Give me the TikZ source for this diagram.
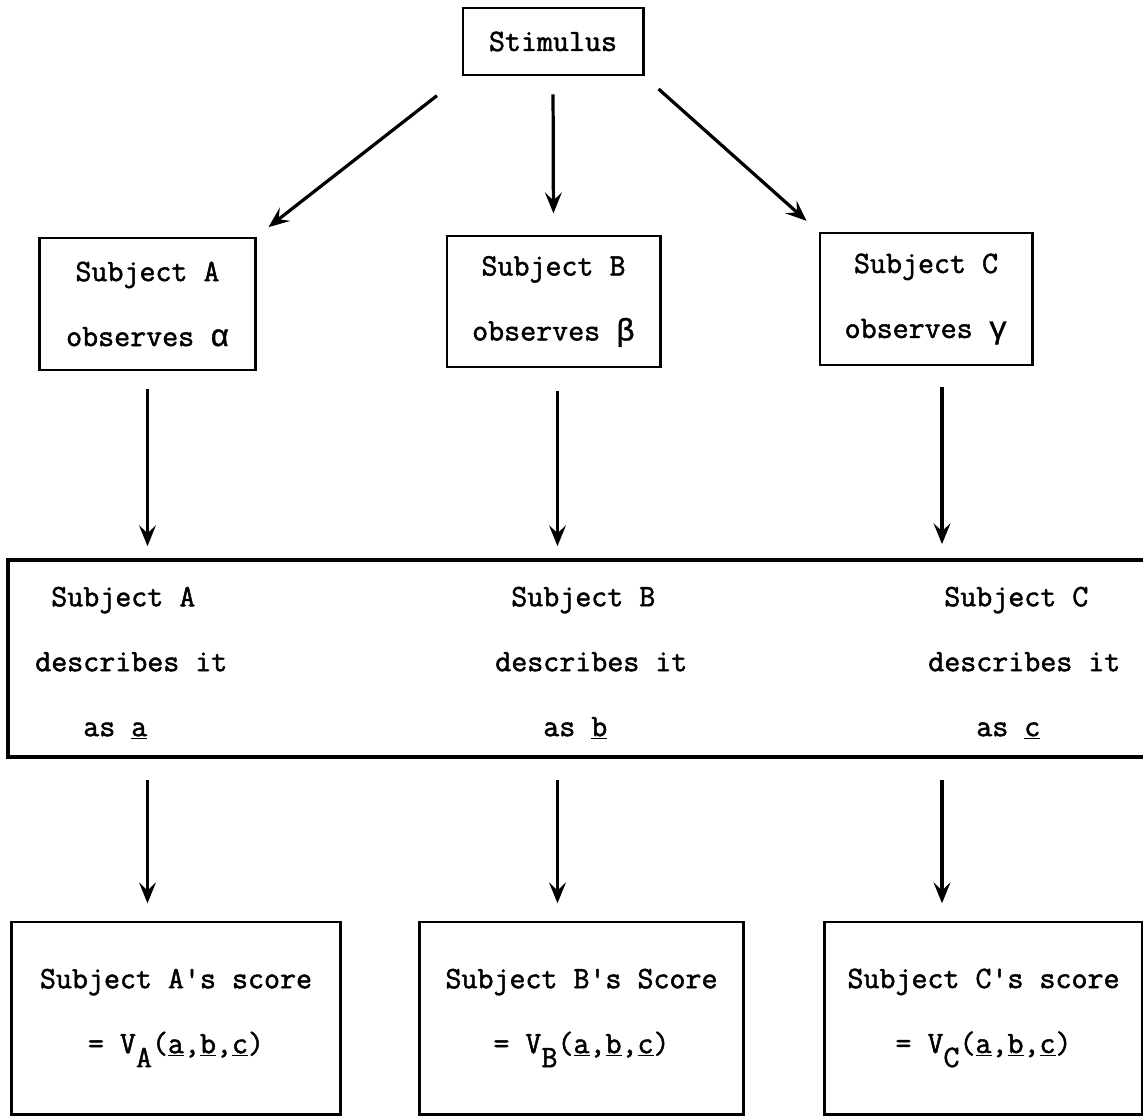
\documentclass[tikz,border=0pt]{standalone}
\usepackage{fontspec}
\setmonofont{Latin Modern Mono}[FakeBold=1.6]
\newfontfamily\greekfont{Liberation Mono}[FakeBold=1.2]
\usetikzlibrary{arrows.meta}
\newcommand{\typeset}{\ttfamily\fontsize{22.1}{46.2}\selectfont}
\tikzset{
  box/.style={draw, line width=2.1pt, inner sep=0pt, align=center, font=\typeset},
  lane/.style={inner sep=0pt, align=left, anchor=west, font=\typeset},
  flow/.style={-{Stealth[length=5.2mm,width=4.2mm,inset=2mm]}, line width=2.3pt},
}

\begin{document}
\begin{tikzpicture}[x=0.025cm, y=-0.025cm]
  \useasboundingbox (0,0) rectangle (1143,1116);

  % stimulus and the three observers
  \node[box, minimum width=4.5cm, minimum height=1.675cm] (stim) at (553,41.5) {Stimulus};
  \node[box, minimum width=5.375cm, minimum height=3.3cm] (obsA) at (147.5,304)
    {Subject A\\observes {\greekfont α}};
  \node[box, minimum width=5.325cm, minimum height=3.275cm] (obsB) at (553.5,301.5)
    {Subject B\\observes {\greekfont β}};
  \node[box, minimum width=5.3cm, minimum height=3.3cm] (obsC) at (926,299)
    {Subject C\\observes {\greekfont γ}};

  % common description box, open on the right
  \node[box, line width=2.6pt, minimum width=28.55cm, minimum height=4.925cm] (desc) at (579,658.5) {};
  \node[lane] (descA) at (35,663)
    {\hphantom{x}Subject A\\describes it\\\hphantom{xxx}as \underline{a}};
  \node[lane] (descB) at (495,663)
    {\hphantom{x}Subject B\\describes it\\\hphantom{xxx}as \underline{b}};
  \node[lane] (descC) at (928,663)
    {\hphantom{x}Subject C\\describes it\\\hphantom{xxx}as \underline{c}};

  % scores
  \node[box, minimum width=8.2cm, minimum height=4.8cm] (scoreA) at (176,1018)
    {Subject A's score\\= V\raisebox{-0.45em}{A}(\underline{a},\underline{b},\underline{c})};
  \node[box, minimum width=8.075cm, minimum height=4.8cm] (scoreB) at (581.5,1018)
    {Subject B's Score\\= V\raisebox{-0.45em}{B}(\underline{a},\underline{b},\underline{c})};
  \node[box, minimum width=7.925cm, minimum height=4.8cm] (scoreC) at (983.5,1018)
    {Subject C's score\\= V\raisebox{-0.45em}{C}(\underline{a},\underline{b},\underline{c})};

  \coordinate (laneC) at ([xshift=0.4cm]obsC.south);

  % arrows
  \draw[flow, shorten <=0.78cm, shorten >=0.38cm] (stim.south west) -- (obsA.north east);
  \draw[flow, shorten <=0.45cm, shorten >=0.53cm] (stim.south) -- (obsB.north);
  \draw[flow, shorten <=0.47cm, shorten >=0.4cm] (stim.south east) -- (obsC.north west);

  \draw[flow, shorten <=0.45cm, shorten >=0.3cm] (obsA.south) -- (obsA.south |- desc.north);
  \draw[flow, shorten <=0.55cm, shorten >=0.3cm] ([xshift=0.1cm]obsB.south) -- ([xshift=0.1cm]obsB.south |- desc.north);
  \draw[flow, shorten <=0.5cm, shorten >=0.35cm] (laneC) -- (laneC |- desc.north);

  \draw[flow, shorten <=0.53cm, shorten >=0.43cm] (obsA.south |- desc.south) -- (obsA.south |- scoreA.north);
  \draw[flow, shorten <=0.53cm, shorten >=0.43cm] ([xshift=0.1cm]obsB.south |- desc.south) -- ([xshift=0.1cm]obsB.south |- scoreB.north);
  \draw[flow, shorten <=0.53cm, shorten >=0.43cm] (laneC |- desc.south) -- (laneC |- scoreC.north);
\end{tikzpicture}
\end{document}
